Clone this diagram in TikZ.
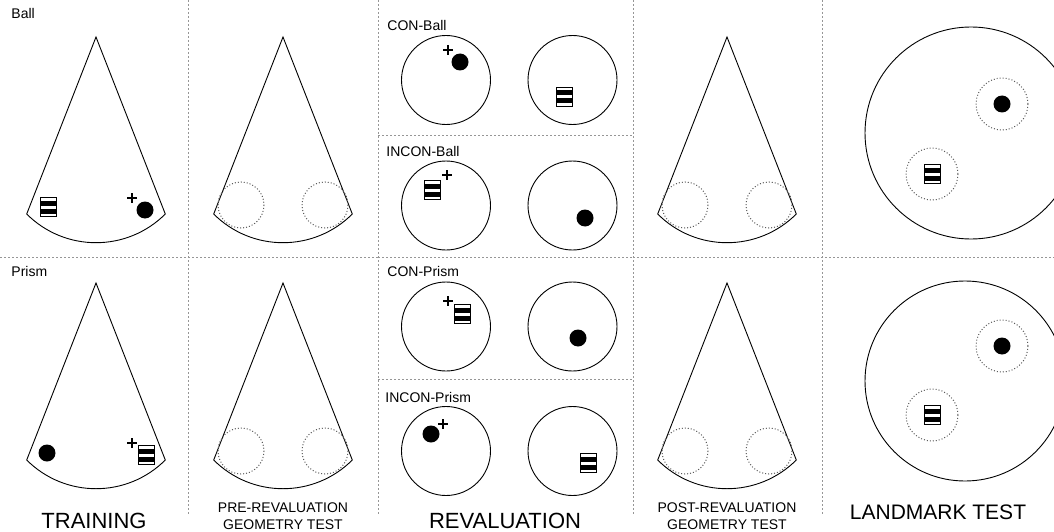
\documentclass[tikz,border=0pt]{standalone}
\usepackage{fontspec}
\setmainfont{Liberation Sans}
\definecolor{dividergray}{RGB}{150,150,150}
\definecolor{zonegray}{RGB}{90,90,90}

\begin{document}
\begin{tikzpicture}[x=1pt, y=-1pt, line width=0.9pt,
        divider/.style={dividergray, line width=0.9pt, dash pattern=on 2pt off 2pt},
        zone/.style={zonegray, line width=1pt, dotted},
        smalllabel/.style={anchor=west, inner sep=0pt, font=\fontsize{14}{17}\selectfont},
        phaselabel/.style={inner sep=0pt, align=center, font=\fontsize{22}{26}\selectfont},
        testlabel/.style={inner sep=0pt, align=center, font=\fontsize{14}{17.5}\selectfont},
        ball/.pic={\fill (0,0) circle (8.5);},
        prism/.pic={
            \fill[white] (-8,-9.5) rectangle (8,9.5);
            \fill (-8,-6.5) rectangle (8,-1.5);
            \fill (-8,1.5) rectangle (8,6.5);
            \draw[line width=1pt] (-8,-9.5) rectangle (8,9.5);
        },
        cross/.pic={\draw[line width=1.3pt] (-5,0) -- (5,0) (0,-5) -- (0,5);}]
        \useasboundingbox (0,0) rectangle (1054,532);
        \clip (0,0) rectangle (1054,532);
        \foreach \x in {188,378,633,822} {
            \draw[divider] (\x,0) -- (\x,515);
        }
        \draw[divider] (0,257) -- (378,257);
        \draw[divider] (633,257) -- (1054,257);
        \foreach \y in {135,257,379} {
            \draw[divider] (378,\y) -- (633,\y);
        }
        \foreach \ax/\ay in {96/37, 283/37, 727/37, 96/283, 283/283, 727/283} {
            \draw (\ax,\ay) -- ++(-69.3,177) arc[start angle=135, end angle=45, radius=98] -- cycle;
        }
        \foreach \ax/\ay in {283/37, 727/37, 283/283, 727/283} {
            \draw[zone] (\ax-42,\ay+168) circle (23);
            \draw[zone] (\ax+42,\ay+168) circle (23);
        }
        \pic at (48,207) {prism};
        \pic at (145,210) {ball};
        \pic at (132,198) {cross};
        \pic at (47,453) {ball};
        \pic at (146,455) {prism};
        \pic at (132,443) {cross};
        \foreach \y in {80,205.5,326.5,451} {
            \draw (446,\y) circle (44.5);
            \draw (572.5,\y) circle (44.5);
        }
        \pic at (460,62) {ball};
        \pic at (448,50) {cross};
        \pic at (564,97) {prism};
        \pic at (432,190) {prism};
        \pic at (447,175) {cross};
        \pic at (585,218) {ball};
        \pic at (462,314) {prism};
        \pic at (448,301) {cross};
        \pic at (578,338) {ball};
        \pic at (431,434) {ball};
        \pic at (443,424) {cross};
        \pic at (588,463) {prism};
        \draw (971,133) circle (106);
        \draw[zone] (1002,104) circle (26);
        \draw[zone] (932,174) circle (26);
        \pic at (1002,104) {ball};
        \pic at (932,174) {prism};
        \draw (965,381) circle (100);
        \draw[zone] (1002,346) circle (26);
        \draw[zone] (932,415) circle (26);
        \pic at (1002,346) {ball};
        \pic at (932,415) {prism};
        \node[smalllabel] (ballrow) at (11,13) {Ball};
        \node[smalllabel] (prismrow) at (11,271) {Prism};
        \node[smalllabel] (conball) at (387,25) {CON-Ball};
        \node[smalllabel] (inconball) at (386,151) {INCON-Ball};
        \node[smalllabel] (conprism) at (387,271) {CON-Prism};
        \node[smalllabel] (inconprism) at (385,397) {INCON-Prism};
        \node[phaselabel] (training) at (94,521) {TRAINING};
        \node[testlabel] (pretest) at (283,516) {PRE-REVALUATION\\GEOMETRY TEST};
        \node[phaselabel] (revaluation) at (505,521) {REVALUATION};
        \node[testlabel] (posttest) at (727,516) {POST-REVALUATION\\GEOMETRY TEST};
        \node[phaselabel, font=\fontsize{21}{25}\selectfont] (landmark) at (938,512) {LANDMARK TEST};
    \end{tikzpicture}
\end{document}
